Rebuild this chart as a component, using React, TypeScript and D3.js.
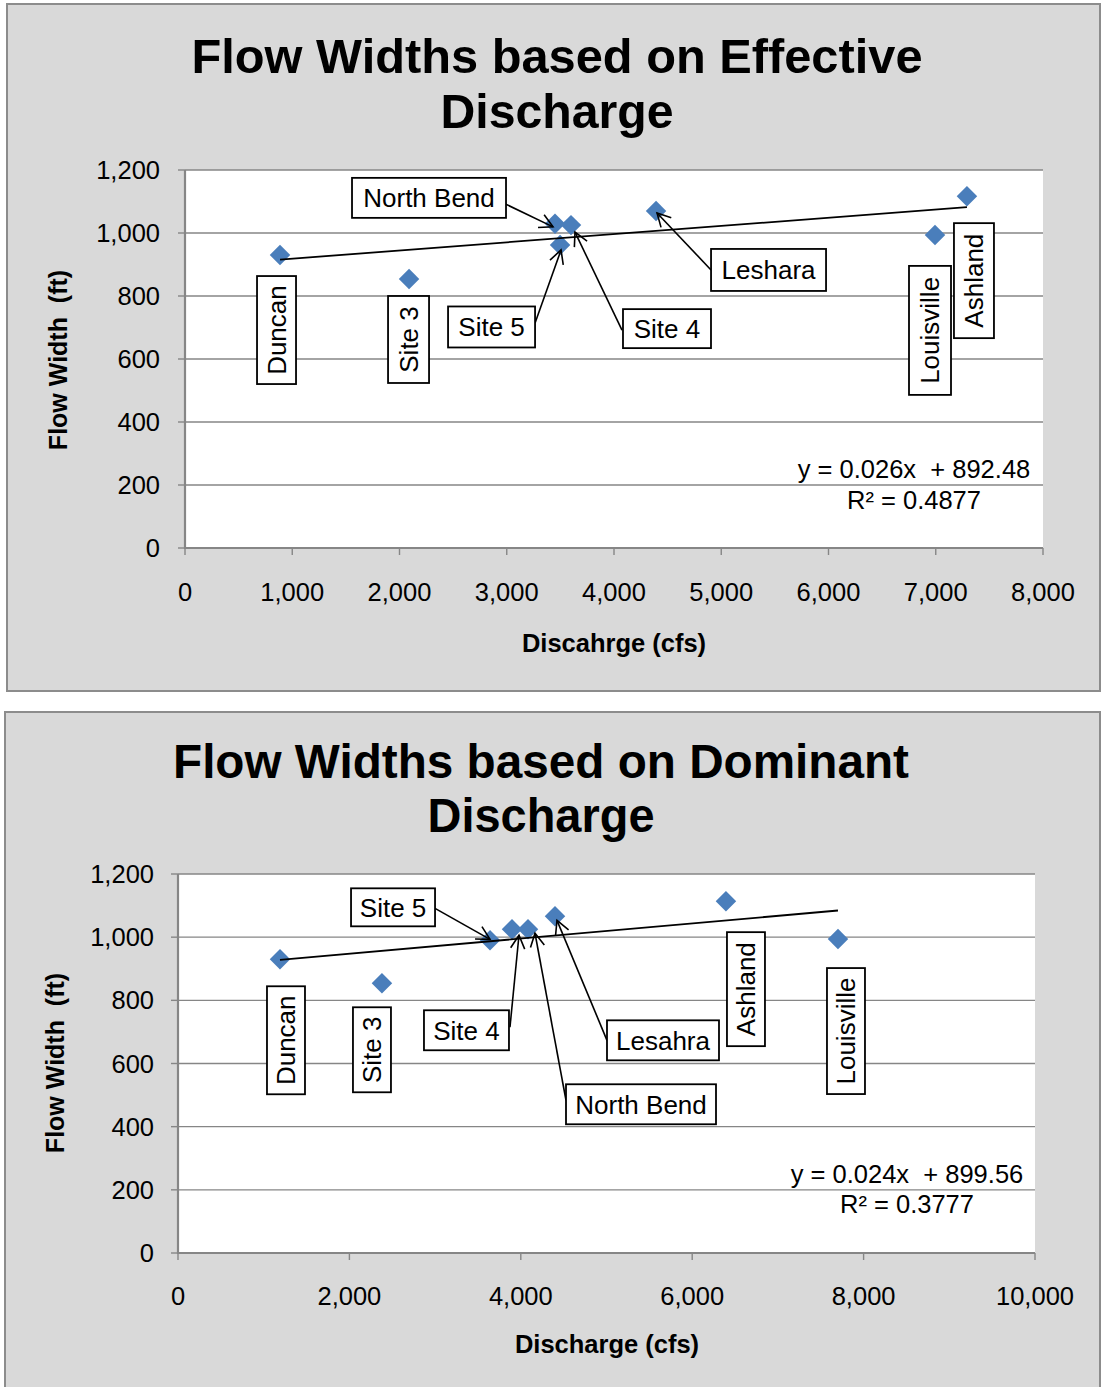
import React from 'react';
import * as d3 from 'd3';

// ---------- DATA ----------
const effSites = ['Duncan', 'Site 3', 'North Bend', 'Site 5', 'Site 4', 'Leshara', 'Louisville', 'Ashland'];
const effDischarge = [886, 2089, 3450, 3497, 3599, 4392, 6993, 7291];
const effWidth = [930, 854, 1029, 962, 1025, 1070, 994, 1117];
const effTrend = { slope: 0.026, intercept: 892.48 };
const effEquation = ['y = 0.026x  + 892.48', 'R² = 0.4877'];
const effXTicks = [0, 1000, 2000, 3000, 4000, 5000, 6000, 7000, 8000];

const domSites = ['Duncan', 'Site 3', 'Site 5', 'Site 4', 'North Bend', 'Lesahra', 'Ashland', 'Louisville'];
const domDischarge = [1190, 2380, 3641, 3897, 4084, 4399, 6394, 7701];
const domWidth = [930, 854, 990, 1025, 1025, 1066, 1114, 994];
const domTrend = { slope: 0.024, intercept: 899.56 };
const domEquation = ['y = 0.024x  + 899.56', 'R² = 0.3777'];
const domXTicks = [0, 2000, 4000, 6000, 8000, 10000];

const yTicks = [0, 200, 400, 600, 800, 1000, 1200];

// ---------- LABEL LAYOUT (offsets from each point, px) ----------
type Lab = { dx: number; dy: number; w: number; h: number; rot: boolean; lead?: [number, number, number, number] };
const effLabels: Lab[] = [
  { dx: -3.5, dy: 75, w: 39, h: 108, rot: true },
  { dx: -0.5, dy: 60.5, w: 41, h: 87, rot: true },
  { dx: -126, dy: -26, w: 154, h: 40, rot: false, lead: [74, 5, -2, 3] },
  { dx: -68.5, dy: 82, w: 87, h: 41, rot: false, lead: [43.5, -4, 1, 5] },
  { dx: 96, dy: 103.5, w: 88, h: 39, rot: false, lead: [-45, 1.5, 4, 7] },
  { dx: 112.5, dy: 59, w: 115, h: 42, rot: false, lead: [-57.5, 0, 1, 2] },
  { dx: -5, dy: 95.5, w: 42, h: 129, rot: true },
  { dx: 7, dy: 84.5, w: 40, h: 115, rot: true },
];
const domLabels: Lab[] = [
  { dx: 6, dy: 81, w: 38, h: 108, rot: true },
  { dx: -10, dy: 66.5, w: 38, h: 85, rot: true },
  { dx: -97, dy: -33, w: 84, h: 38, rot: false, lead: [42, 1, 0, -1] },
  { dx: -45.5, dy: 101, w: 85, h: 40, rot: false, lead: [43.5, -3, 7, 6] },
  { dx: 113, dy: 175, w: 150, h: 40, rot: false, lead: [-75, -4, 7, 4] },
  { dx: 108, dy: 124, w: 112, h: 40, rot: false, lead: [-56, 0, 2, 4] },
  { dx: 20, dy: 88, w: 38, h: 114, rot: true },
  { dx: 8, dy: 92, w: 38, h: 126, rot: true },
];

const FONT = '"Liberation Sans", Arial, Helvetica, sans-serif';
const GRID = '#868686';

type ChartProps = {
  frame: { x: number; y: number; w: number; h: number };
  plot: { l: number; r: number; t: number; b: number };
  xMax: number;
  xTicks: number[];
  sites: string[];
  xs: number[];
  ys: number[];
  trend: { slope: number; intercept: number };
  eq: string[];
  eqPos: { x: number; y1: number; y2: number };
  labels: Lab[];
  title: string[];
  titlePos: { x: number; y1: number; y2: number; len1: number; len2: number };
  xTitle: string;
  xTitlePos: { x: number; y: number };
  yTitlePos: { x: number; y: number };
  xTickY: number;
  yTickX: number;
};

function Arrow({ x1, y1, x2, y2 }: { x1: number; y1: number; x2: number; y2: number }) {
  const ang = Math.atan2(y2 - y1, x2 - x1);
  const L = 15;
  const a = (28 * Math.PI) / 180;
  const p1 = [x2 - L * Math.cos(ang - a), y2 - L * Math.sin(ang - a)];
  const p2 = [x2 - L * Math.cos(ang + a), y2 - L * Math.sin(ang + a)];
  return (
    <g stroke="#000" strokeWidth={1.6} fill="none">
      <line x1={x1} y1={y1} x2={x2} y2={y2} />
      <polyline points={`${p1[0]},${p1[1]} ${x2},${y2} ${p2[0]},${p2[1]}`} />
    </g>
  );
}

function Chart(p: ChartProps) {
  const x = d3.scaleLinear().domain([0, p.xMax]).range([p.plot.l, p.plot.r]);
  const y = d3.scaleLinear().domain([0, 1200]).range([p.plot.b, p.plot.t]);
  const fmt = d3.format(',');
  const xMin = d3.min(p.xs) as number;
  const xMaxD = d3.max(p.xs) as number;
  const trendLine = d3
    .line<number>()
    .x((d) => x(d))
    .y((d) => y(p.trend.slope * d + p.trend.intercept));
  const marker = d3.symbol().type(d3.symbolSquare).size(210);

  return (
    <g>
      <rect x={p.frame.x} y={p.frame.y} width={p.frame.w} height={p.frame.h} fill="#d9d9d9" stroke="#8c8c8c" strokeWidth={2} />
      {/* title */}
      <text x={p.titlePos.x} y={p.titlePos.y1} textAnchor="middle" fontFamily={FONT} fontWeight="bold" fontSize={48}
        textLength={p.titlePos.len1} lengthAdjust="spacingAndGlyphs">{p.title[0]}</text>
      <text x={p.titlePos.x} y={p.titlePos.y2} textAnchor="middle" fontFamily={FONT} fontWeight="bold" fontSize={48}
        textLength={p.titlePos.len2} lengthAdjust="spacingAndGlyphs">{p.title[1]}</text>
      {/* plot area */}
      <rect x={p.plot.l} y={p.plot.t} width={p.plot.r - p.plot.l} height={p.plot.b - p.plot.t} fill="#fff" />
      {yTicks.map((t) => (
        <g key={'gy' + t}>
          {t > 0 && <line x1={p.plot.l} x2={p.plot.r} y1={y(t)} y2={y(t)} stroke={GRID} strokeWidth={1.4} />}
          <line x1={p.plot.l - 7} x2={p.plot.l} y1={y(t)} y2={y(t)} stroke={GRID} strokeWidth={1.4} />
          <text x={p.yTickX} y={y(t) + 9} textAnchor="end" fontFamily={FONT} fontSize={25.5} fill="#000">{fmt(t)}</text>
        </g>
      ))}
      {p.xTicks.map((t) => (
        <g key={'gx' + t}>
          <line x1={x(t)} x2={x(t)} y1={p.plot.b} y2={p.plot.b + 7} stroke={GRID} strokeWidth={1.4} />
          <text x={x(t)} y={p.xTickY} textAnchor="middle" fontFamily={FONT} fontSize={25.5} fill="#000">{fmt(t)}</text>
        </g>
      ))}
      <line x1={p.plot.l} x2={p.plot.l} y1={p.plot.t} y2={p.plot.b + 1} stroke={GRID} strokeWidth={2.2} />
      <line x1={p.plot.l - 1} x2={p.plot.r} y1={p.plot.b} y2={p.plot.b} stroke={GRID} strokeWidth={2.2} />
      {/* points */}
      {p.xs.map((v, i) => (
        <path key={'pt' + i} d={marker() as string} transform={`translate(${x(v)},${y(p.ys[i])}) rotate(45)`} fill="#4a7ebb" />
      ))}
      {/* trend */}
      <path d={trendLine([xMin, xMaxD]) as string} stroke="#000" strokeWidth={1.8} fill="none" />
      {/* labels */}
      {p.labels.map((lb, i) => {
        const px = x(p.xs[i]);
        const py = y(p.ys[i]);
        const cx = px + lb.dx;
        const cy = py + lb.dy;
        return (
          <g key={'lb' + i}>
            {lb.lead && <Arrow x1={cx + lb.lead[0]} y1={cy + lb.lead[1]} x2={px + lb.lead[2]} y2={py + lb.lead[3]} />}
            <rect x={cx - lb.w / 2} y={cy - lb.h / 2} width={lb.w} height={lb.h} fill="#fff" stroke="#000" strokeWidth={1.8} />
            <text
              x={0}
              y={0}
              transform={`translate(${cx},${cy})${lb.rot ? ' rotate(-90)' : ''}`}
              dy={9.5}
              textAnchor="middle"
              fontFamily={FONT}
              fontSize={26}
              fill="#000"
            >
              {p.sites[i]}
            </text>
          </g>
        );
      })}
      {/* equation */}
      <text x={p.eqPos.x} y={p.eqPos.y1} textAnchor="middle" fontFamily={FONT} fontSize={25.5} style={{ whiteSpace: 'pre' }}>{p.eq[0]}</text>
      <text x={p.eqPos.x} y={p.eqPos.y2} textAnchor="middle" fontFamily={FONT} fontSize={25.5}>{p.eq[1]}</text>
      {/* axis titles */}
      <text x={p.xTitlePos.x} y={p.xTitlePos.y} textAnchor="middle" fontFamily={FONT} fontWeight="bold" fontSize={25.5}>{p.xTitle}</text>
      <text transform={`translate(${p.yTitlePos.x},${p.yTitlePos.y}) rotate(-90)`} textAnchor="middle" fontFamily={FONT}
        fontWeight="bold" fontSize={25} style={{ whiteSpace: 'pre' }}>{'Flow Width  (ft)'}</text>
    </g>
  );
}

export default function App() {
  return (
    <svg width={1102} height={1387} style={{ position: 'absolute', left: 0, top: 0, background: '#fff' }}>
      <Chart
        frame={{ x: 7, y: 4, w: 1093, h: 687 }}
        plot={{ l: 185, r: 1043, t: 170, b: 548 }}
        xMax={8000}
        xTicks={effXTicks}
        sites={effSites}
        xs={effDischarge}
        ys={effWidth}
        trend={effTrend}
        eq={effEquation}
        eqPos={{ x: 914, y1: 478, y2: 509 }}
        labels={effLabels}
        title={['Flow Widths based on Effective', 'Discharge']}
        titlePos={{ x: 557, y1: 73, y2: 128, len1: 731, len2: 233 }}
        xTitle="Discahrge (cfs)"
        xTitlePos={{ x: 614, y: 652 }}
        yTitlePos={{ x: 67, y: 360 }}
        xTickY={601}
        yTickX={160}
      />
      <Chart
        frame={{ x: 5, y: 712, w: 1095, h: 690 }}
        plot={{ l: 178, r: 1035, t: 874, b: 1253 }}
        xMax={10000}
        xTicks={domXTicks}
        sites={domSites}
        xs={domDischarge}
        ys={domWidth}
        trend={domTrend}
        eq={domEquation}
        eqPos={{ x: 907, y1: 1183, y2: 1213 }}
        labels={domLabels}
        title={['Flow Widths based on Dominant', 'Discharge']}
        titlePos={{ x: 541, y1: 778, y2: 832, len1: 736, len2: 227 }}
        xTitle="Discharge (cfs)"
        xTitlePos={{ x: 607, y: 1353 }}
        yTitlePos={{ x: 64, y: 1063 }}
        xTickY={1305}
        yTickX={154}
      />
    </svg>
  );
}
